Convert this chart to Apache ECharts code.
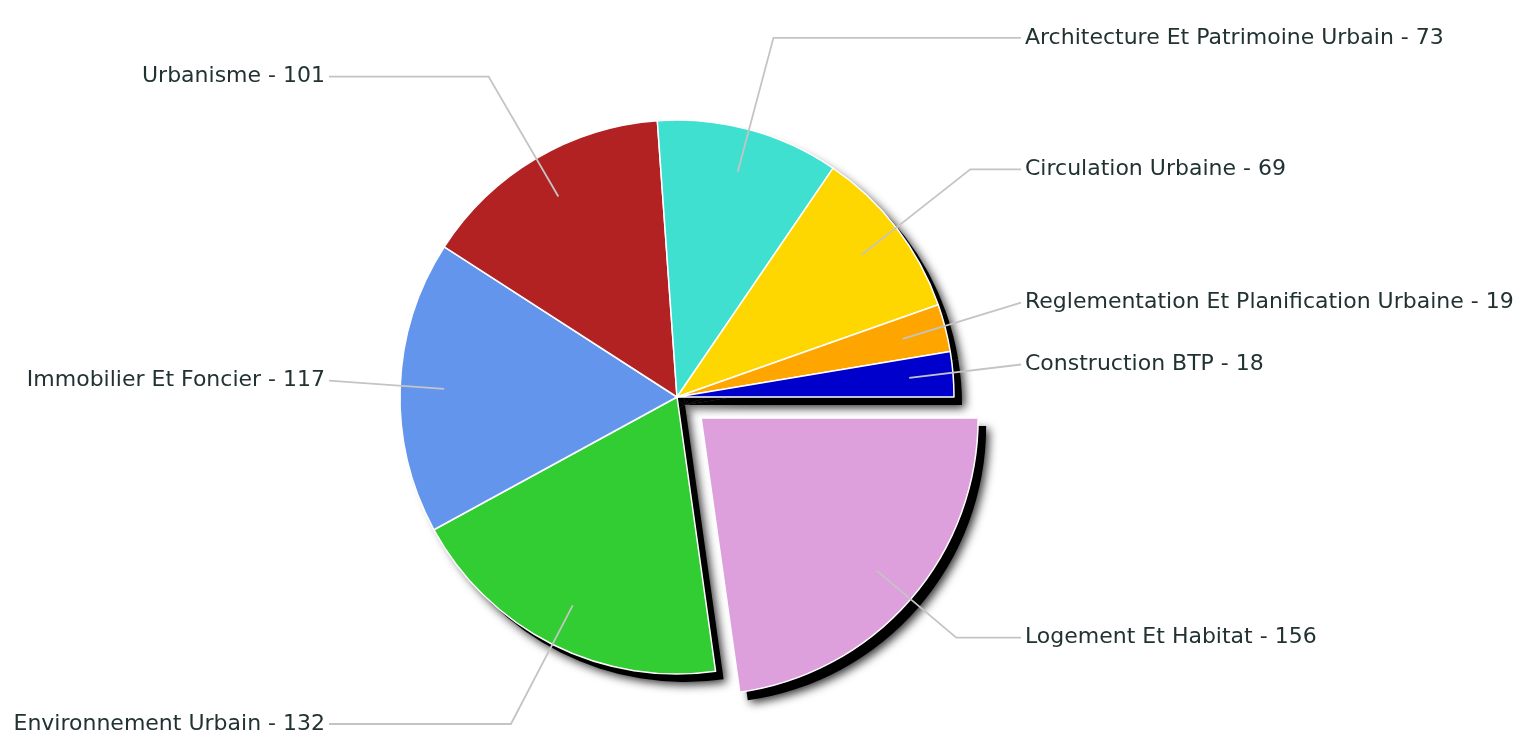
<!DOCTYPE html>
<html>
<head>
<meta charset="utf-8">
<script src="https://cdn.jsdelivr.net/npm/echarts@6/dist/echarts.min.js"></script>
<style>
html,body{margin:0;padding:0;background:#fff;}
#chart{width:1524px;height:738px;}
</style>
</head>
<body>
<div id="chart"></div>
<script>
// ---- data ----
const categories = ['Logement Et Habitat','Environnement Urbain','Immobilier Et Foncier','Urbanisme','Architecture Et Patrimoine Urbain','Circulation Urbaine','Reglementation Et Planification Urbaine','Construction BTP'];
const values = [156, 132, 117, 101, 73, 69, 19, 18];
const colors = ['#dda0dd','#32cd32','#6495ed','#b22222','#40e0d0','#ffd700','#ffa500','#0000cd'];
const explodedCategory = 'Logement Et Habitat';

// ---- layout ----
const CX = 677, CY = 397, R = 277, OFFSET = 32;
const RIGHT_LINE_END = CX + 344, LEFT_LINE_END = CX - 348;
const INNER = 44;

const chart = echarts.init(document.getElementById('chart'), null, {renderer:'canvas'});

const mainData = categories.map((c,i)=>({
  name:c, value:values[i], selected: c===explodedCategory,
  itemStyle:{color:colors[i]}
}));
const shadowData = categories.map((c,i)=>({
  name:c, value:values[i], selected: c===explodedCategory
}));
const labelData = categories.map((c,i)=>({ name:c, value:values[i] }));

function labelLayout(p){
  const pts = p.labelLinePoints;
  if(!pts) return {};
  const a = pts[0], b = pts[1], c = pts[2];
  const right = c[0] >= b[0];
  const dx = b[0]-a[0], dy = b[1]-a[1];
  const len = Math.hypot(dx,dy) || 1;
  const ux = dx/len, uy = dy/len;
  const shift = categories[p.dataIndex] === explodedCategory ? OFFSET : 0;
  const start = [a[0] - ux*INNER + ux*shift, a[1] - uy*INNER + uy*shift];
  const lineEnd = right ? RIGHT_LINE_END : LEFT_LINE_END;
  const y = c[1] - 2;
  let bend = [b[0], b[1] - 2];
  if (right ? bend[0] > lineEnd - 4 : bend[0] < lineEnd + 4) bend = [lineEnd, y];
  return {
    x: right ? lineEnd + 4 : lineEnd - 4,
    y: y,
    align: right ? 'left' : 'right',
    verticalAlign: 'middle',
    labelLinePoints: [start, bend, [lineEnd, y]]
  };
}

chart.setOption({
  backgroundColor:'#fff',
  animation:false,
  series:[
    {
      type:'pie', name:'shadow', silent:true, z:1,
      center:[CX+8, CY+8], radius:R,
      startAngle:0, clockwise:true,
      selectedMode:'single', selectedOffset:OFFSET,
      label:{show:false}, labelLine:{show:false},
      itemStyle:{color:'#000', shadowColor:'rgba(0,0,0,0.8)', shadowBlur:10, shadowOffsetX:3, shadowOffsetY:3},
      emphasis:{disabled:true},
      data:shadowData
    },
    {
      type:'pie', name:'main', z:2,
      center:[CX, CY], radius:R,
      startAngle:0, clockwise:true,
      selectedMode:'single', selectedOffset:OFFSET,
      itemStyle:{borderColor:'#fff', borderWidth:1.5},
      label:{show:false}, labelLine:{show:false},
      emphasis:{disabled:true},
      data:mainData
    },
    {
      type:'pie', name:'labels', silent:true, z:3,
      center:[CX, CY], radius:R,
      startAngle:0, clockwise:true,
      selectedMode:false,
      itemStyle:{color:'rgba(0,0,0,0)', borderWidth:0},
      label:{
        show:true, formatter:'{b} - {c}', overflow:'none',
        fontFamily:'DejaVu Sans', fontSize:22, color:'#223232'
      },
      labelLine:{show:true, length:93, length2:20, lineStyle:{color:'#c4c4c4', width:1.8}},
      labelLayout: labelLayout,
      emphasis:{disabled:true},
      data:labelData
    }
  ]
});
</script>
</body>
</html>
